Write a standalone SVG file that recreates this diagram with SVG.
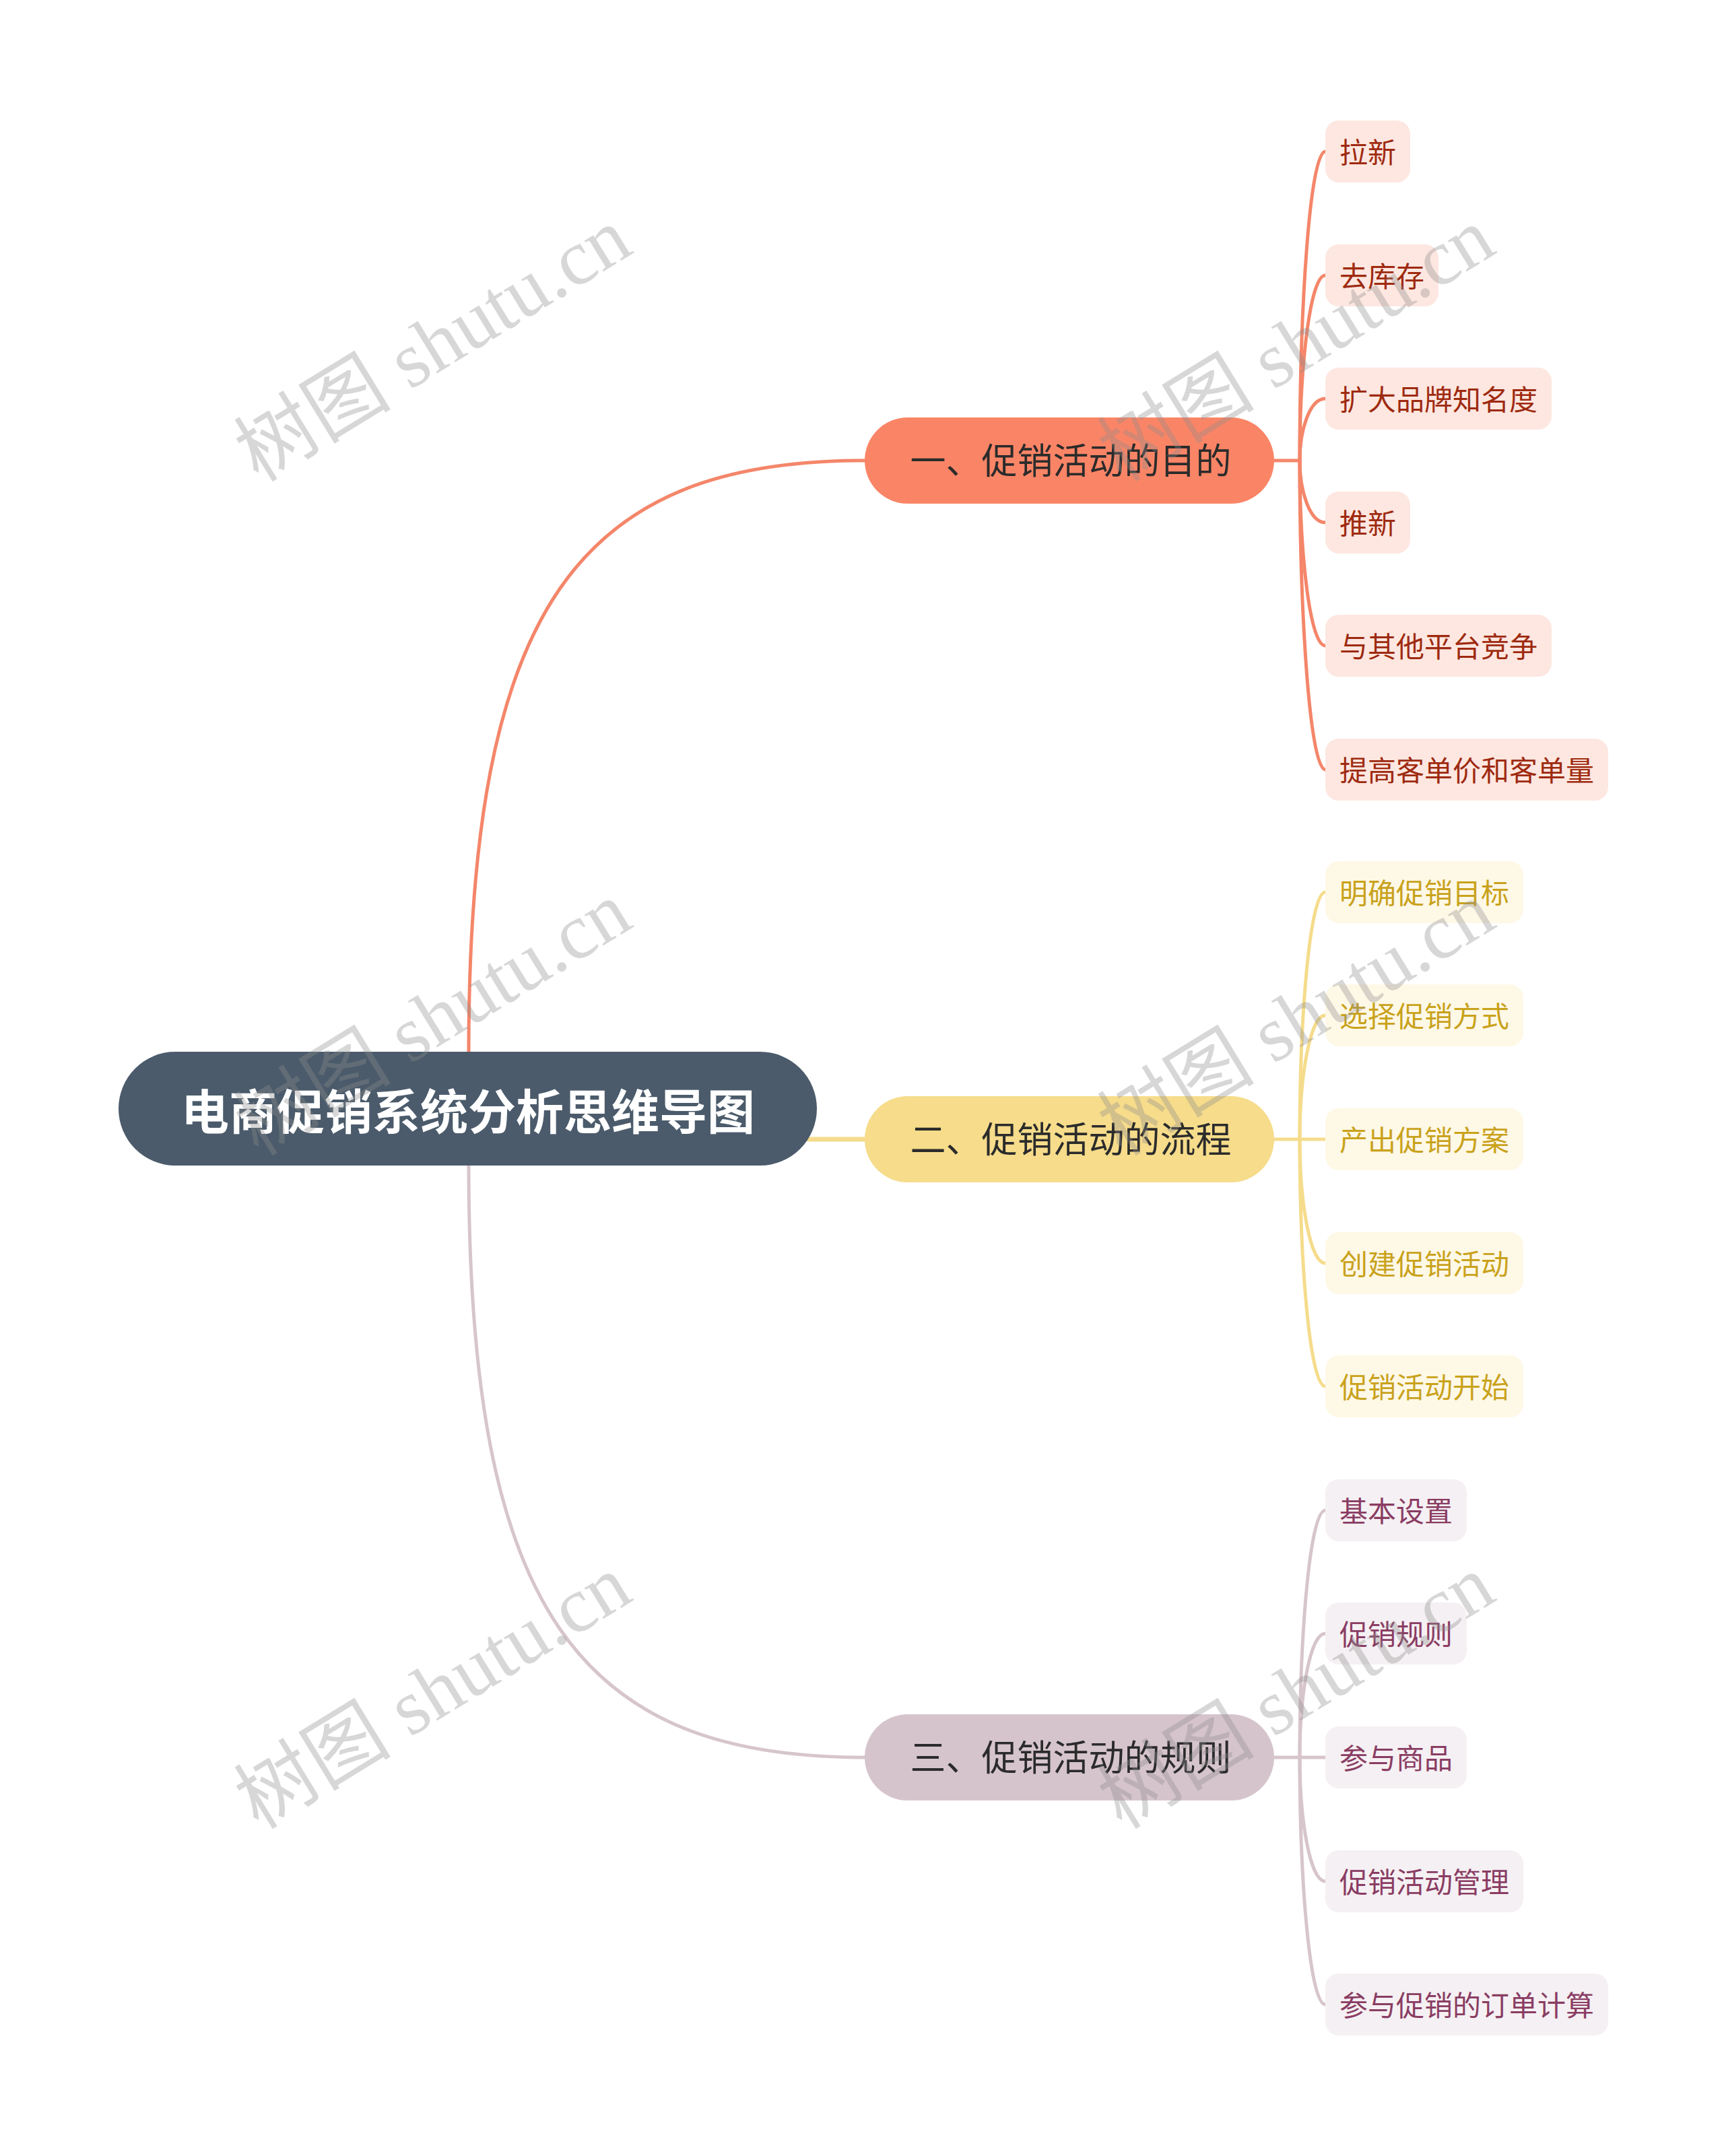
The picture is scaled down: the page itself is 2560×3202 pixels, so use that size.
<svg xmlns="http://www.w3.org/2000/svg" width="2560" height="3202" viewBox="0 0 2560 3202">
<style>
text{font-family:"Noto Sans CJK SC","Noto Sans",sans-serif;dominant-baseline:central}
.root{fill:#4b5b6b}
.roott{fill:#fff;font-size:71px;font-weight:bold;text-anchor:middle}
.bt{fill:#2b2b2b;font-size:53px;text-anchor:middle}
.b1{fill:#fa8566}.b2{fill:#f6dc8b}.b3{fill:#d6c4cc}
.l1{fill:#fde7e0}.l2{fill:#fef8e6}.l3{fill:#f5f0f3}
.lt{font-size:42px}
.t1{fill:#9e2a10}.t2{fill:#c9a21c}.t3{fill:#8a3d63}
.c1{stroke:#f4866a}.c2{stroke:#f5dc8c}.c3{stroke:#d7c5cc}
.conn path{fill:none;stroke-width:5;stroke-linecap:round}
.wm{font-family:"Liberation Serif","Noto Sans CJK SC",serif;font-size:117px;fill:#8c8c8c;fill-opacity:0.35;text-anchor:middle}
</style>
<rect width="2560" height="3202" fill="#fff"/>
<g class="conn" id="connectors">
<path class="c1" d="M696 1562 C696 900 860 684 1284 684"/>
<path class="c2" style="stroke-width:7" d="M1200 1692 L1284 1692"/>
<path class="c3" d="M696 1731 C696 2393 860 2610 1284 2610"/>
<path class="c1" d="M1892 684 L1930 684"/>
<path class="c1" d="M1930 684 C1930 455 1945 225 1968 225"/>
<path class="c1" d="M1930 684 C1930 547 1945 409 1968 409"/>
<path class="c1" d="M1930 684 C1930 638 1945 592 1968 592"/>
<path class="c1" d="M1930 684 C1930 730 1945 776 1968 776"/>
<path class="c1" d="M1930 684 C1930 822 1945 959 1968 959"/>
<path class="c1" d="M1930 684 C1930 914 1945 1143 1968 1143"/>
<path class="c2" d="M1892 1692 L1930 1692"/>
<path class="c2" d="M1930 1692 C1930 1509 1945 1325 1968 1325"/>
<path class="c2" d="M1930 1692 C1930 1600 1945 1508 1968 1508"/>
<path class="c2" d="M1930 1692 L1968 1692"/>
<path class="c2" d="M1930 1692 C1930 1784 1945 1876 1968 1876"/>
<path class="c2" d="M1930 1692 C1930 1876 1945 2059 1968 2059"/>
<path class="c3" d="M1892 2610 L1930 2610"/>
<path class="c3" d="M1930 2610 C1930 2427 1945 2243 1968 2243"/>
<path class="c3" d="M1930 2610 C1930 2518 1945 2426 1968 2426"/>
<path class="c3" d="M1930 2610 L1968 2610"/>
<path class="c3" d="M1930 2610 C1930 2702 1945 2794 1968 2794"/>
<path class="c3" d="M1930 2610 C1930 2794 1945 2977 1968 2977"/>
</g>
<g id="root"><rect class="root" x="176" y="1562" width="1037" height="169" rx="84.5"/><text class="roott" x="695" y="1646">电商促销系统分析思维导图</text></g>
<g id="b1"><rect class="b1" x="1284" y="620" width="608" height="128" rx="64"/><text class="bt" x="1590" y="681">一、促销活动的目的</text></g>
<g id="b2"><rect class="b2" x="1284" y="1628" width="608" height="128" rx="64"/><text class="bt" x="1590" y="1689">二、促销活动的流程</text></g>
<g id="b3"><rect class="b3" x="1284" y="2546" width="608" height="128" rx="64"/><text class="bt" x="1590" y="2607">三、促销活动的规则</text></g>
<g id="l1-1"><rect class="l1" x="1968" y="179" width="126" height="92" rx="20"/><text class="lt t1" x="1989" y="223">拉新</text></g>
<g id="l1-2"><rect class="l1" x="1968" y="363" width="168" height="92" rx="20"/><text class="lt t1" x="1989" y="407">去库存</text></g>
<g id="l1-3"><rect class="l1" x="1968" y="546" width="336" height="92" rx="20"/><text class="lt t1" x="1989" y="590">扩大品牌知名度</text></g>
<g id="l1-4"><rect class="l1" x="1968" y="730" width="126" height="92" rx="20"/><text class="lt t1" x="1989" y="774">推新</text></g>
<g id="l1-5"><rect class="l1" x="1968" y="913" width="336" height="92" rx="20"/><text class="lt t1" x="1989" y="957">与其他平台竞争</text></g>
<g id="l1-6"><rect class="l1" x="1968" y="1097" width="420" height="92" rx="20"/><text class="lt t1" x="1989" y="1141">提高客单价和客单量</text></g>
<g id="l2-1"><rect class="l2" x="1968" y="1279" width="294" height="92" rx="20"/><text class="lt t2" x="1989" y="1323">明确促销目标</text></g>
<g id="l2-2"><rect class="l2" x="1968" y="1462" width="294" height="92" rx="20"/><text class="lt t2" x="1989" y="1506">选择促销方式</text></g>
<g id="l2-3"><rect class="l2" x="1968" y="1646" width="294" height="92" rx="20"/><text class="lt t2" x="1989" y="1690">产出促销方案</text></g>
<g id="l2-4"><rect class="l2" x="1968" y="1830" width="294" height="92" rx="20"/><text class="lt t2" x="1989" y="1874">创建促销活动</text></g>
<g id="l2-5"><rect class="l2" x="1968" y="2013" width="294" height="92" rx="20"/><text class="lt t2" x="1989" y="2057">促销活动开始</text></g>
<g id="l3-1"><rect class="l3" x="1968" y="2197" width="210" height="92" rx="20"/><text class="lt t3" x="1989" y="2241">基本设置</text></g>
<g id="l3-2"><rect class="l3" x="1968" y="2380" width="210" height="92" rx="20"/><text class="lt t3" x="1989" y="2424">促销规则</text></g>
<g id="l3-3"><rect class="l3" x="1968" y="2564" width="210" height="92" rx="20"/><text class="lt t3" x="1989" y="2608">参与商品</text></g>
<g id="l3-4"><rect class="l3" x="1968" y="2748" width="294" height="92" rx="20"/><text class="lt t3" x="1989" y="2792">促销活动管理</text></g>
<g id="l3-5"><rect class="l3" x="1968" y="2931" width="420" height="92" rx="20"/><text class="lt t3" x="1989" y="2975">参与促销的订单计算</text></g>
<g id="watermarks">
<text class="wm" transform="translate(643 512) rotate(-31.5)">树图 shutu.cn</text>
<text class="wm" transform="translate(1925 512) rotate(-31.5)">树图 shutu.cn</text>
<text class="wm" transform="translate(643 1513) rotate(-31.5)">树图 shutu.cn</text>
<text class="wm" transform="translate(1925 1513) rotate(-31.5)">树图 shutu.cn</text>
<text class="wm" transform="translate(643 2513) rotate(-31.5)">树图 shutu.cn</text>
<text class="wm" transform="translate(1925 2513) rotate(-31.5)">树图 shutu.cn</text>
</g>
</svg>
